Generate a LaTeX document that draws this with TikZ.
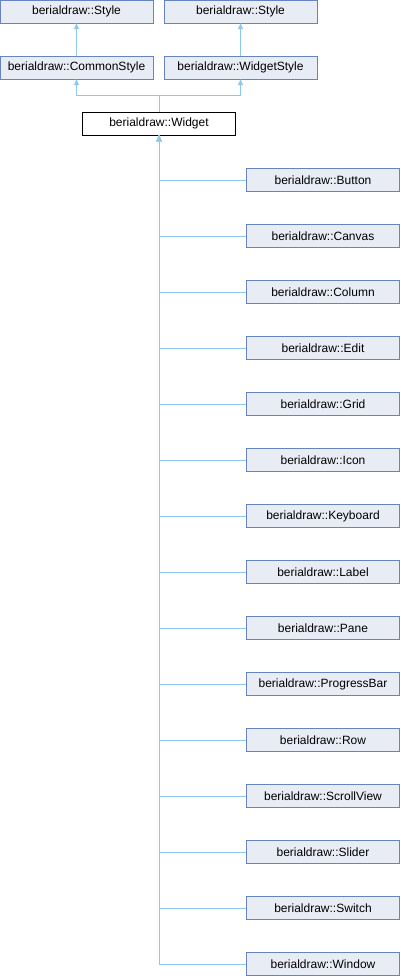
\documentclass[tikz,border=0pt]{standalone}
\usepackage{fontspec}
\setmainfont{Liberation Sans}
\usetikzlibrary{arrows.meta}
\definecolor{boxfill}{RGB}{232,236,245}
\definecolor{boxline}{RGB}{104,132,192}
\definecolor{edgeblue}{RGB}{143,200,232}

\begin{document}
\begin{tikzpicture}[x=1pt,y=-1pt,
	cls/.style={draw=boxline,fill=boxfill,minimum width=153pt,minimum height=23pt,
		inner sep=0pt,font=\fontsize{12}{14}\selectfont},
	cur/.style={cls,draw=black,fill=white},
	inh/.style={draw=edgeblue,line width=0.8pt,-{Triangle[width=5pt,length=6pt]}}]
	\useasboundingbox (0,0) rectangle (400,976);
	% bases
	\node[cls] (style1) at (76.5,11.5) {berialdraw::Style};
	\node[cls] (style2) at (240.5,11.5) {berialdraw::Style};
	\node[cls] (common) at (76.5,67.5) {berialdraw::CommonStyle};
	\node[cls] (wstyle) at (240.5,67.5) {berialdraw::WidgetStyle};
	\node[cur] (widget) at (159,123.5) {berialdraw::Widget};
	\draw[inh] (common.north) -- (style1.south);
	\draw[inh] (wstyle.north) -- (style2.south);
	\draw[inh] (widget.north) -- ++(0,-16) -| (common.south);
	\draw[inh] (widget.north) -- ++(0,-16) -| (wstyle.south);
	% derived classes
	\foreach \cname [count=\i from 0] in {Button,Canvas,Column,Edit,Grid,Icon,Keyboard,
		Label,Pane,ProgressBar,Row,ScrollView,Slider,Switch,Window}{
		\node[cls] (\cname) at (323,180+56*\i) {berialdraw::\cname};
		\draw[inh] (\cname.west) -| (widget.south);
	}
\end{tikzpicture}
\end{document}
